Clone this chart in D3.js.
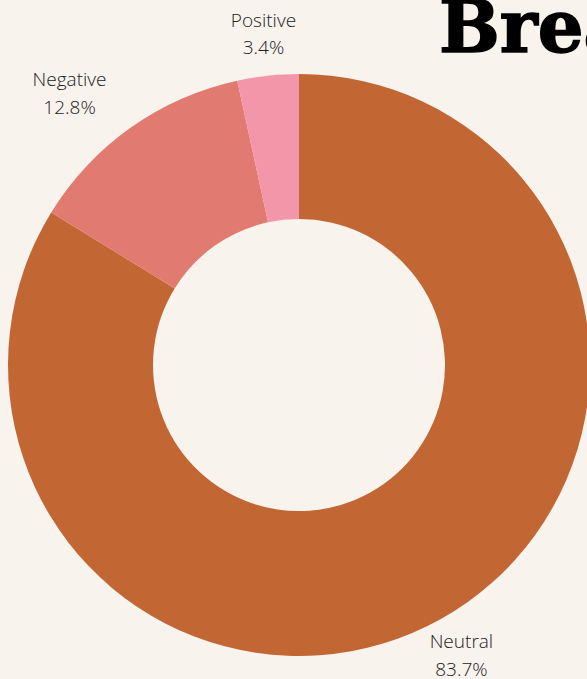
<!DOCTYPE html>
<html>
<head>
<meta charset="utf-8">
<script src="https://cdn.jsdelivr.net/npm/d3@7"></script>
<style>
  html, body { margin: 0; padding: 0; background: #f8f3ed; overflow: hidden; }
  svg { display: block; }
</style>
</head>
<body>
<svg id="chart" width="587" height="679"></svg>
<script>
// Sentiment shares, in percent
const categories = ["Neutral", "Negative", "Positive"];
const shares = [83.7, 12.8, 3.4];
const colors = ["#c26633", "#e17a70", "#f396a9"];
const title = "Breakdown of Sentiment";

const width = 587, height = 679;
const cx = 299, cy = 365;
const outerR = 291, innerR = 146, labelR = 333;

const svg = d3.select("#chart");

svg.append("text")
  .attr("x", 439)
  .attr("y", 52)
  .attr("font-family", "'DejaVu Serif', serif")
  .attr("font-weight", "bold")
  .attr("font-size", 72)
  .attr("fill", "#000")
  .attr("stroke", "#000")
  .attr("stroke-width", 1.5)
  .text(title);

const data = categories.map((c, i) => ({ name: c, value: shares[i], color: colors[i] }));

const pie = d3.pie().value(d => d.value).sort(null);
const arcs = pie(data);

const arc = d3.arc().innerRadius(innerR).outerRadius(outerR);
const labelArc = d3.arc().innerRadius(labelR).outerRadius(labelR);

const g = svg.append("g").attr("transform", `translate(${cx},${cy})`);

g.selectAll("path")
  .data(arcs)
  .join("path")
  .attr("d", arc)
  .attr("fill", d => d.data.color);

// Two-line labels outside the ring; side labels are right/left aligned to the anchor
const lineH = 27.5;
const labels = g.selectAll("g.label")
  .data(arcs)
  .join("g")
  .attr("class", "label");

labels.each(function(d) {
  const [x, y] = labelArc.centroid(d);
  const mid = (d.startAngle + d.endAngle) / 2;
  const s = Math.sin(mid);
  const t = d3.select(this).append("text")
    .attr("font-family", "'Open Sans', sans-serif")
    .attr("font-size", 19)
    .attr("font-weight", 300)
    .attr("fill", "#222")
    .attr("text-anchor", "middle");
  const l1 = t.append("tspan").attr("x", 0).attr("y", -lineH / 2 + 6.5).text(d.data.name);
  const l2 = t.append("tspan").attr("x", 0).attr("y", lineH / 2 + 6.5).text(d3.format(".1f")(d.data.value) + "%");
  const w = Math.max(l1.node().getComputedTextLength(), l2.node().getComputedTextLength());
  let ox = x;
  if (Math.abs(s) >= 0.5) ox = s < 0 ? x - w / 2 : x + w / 2;
  d3.select(this).attr("transform", `translate(${ox},${y})`);
});
</script>
</body>
</html>
